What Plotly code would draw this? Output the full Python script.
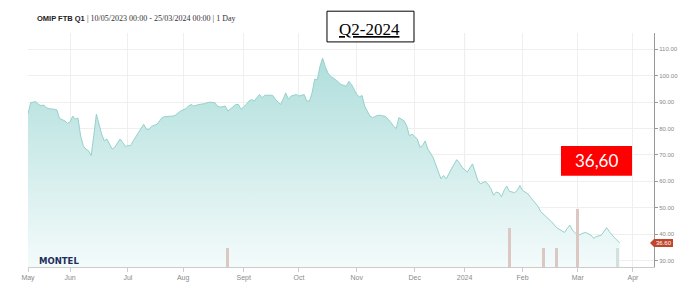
import plotly.graph_objects as go

# ---------------- data ----------------
price_dates = [
    "2023-05-10","2023-05-11","2023-05-15","2023-05-16","2023-05-17","2023-05-18","2023-05-19","2023-05-22","2023-05-24","2023-05-25","2023-05-26","2023-05-30","2023-05-31",
    "2023-06-01","2023-06-02","2023-06-05","2023-06-06","2023-06-07","2023-06-08","2023-06-09","2023-06-12","2023-06-13","2023-06-14","2023-06-15","2023-06-19","2023-06-20","2023-06-21","2023-06-22","2023-06-23","2023-06-26","2023-06-28","2023-06-29","2023-06-30",
    "2023-07-03","2023-07-04","2023-07-05","2023-07-07","2023-07-11","2023-07-12","2023-07-13","2023-07-14","2023-07-18","2023-07-20","2023-07-21","2023-07-26","2023-07-27","2023-07-31",
    "2023-08-02","2023-08-03","2023-08-04","2023-08-07","2023-08-09","2023-08-11","2023-08-15","2023-08-17","2023-08-18","2023-08-21","2023-08-23","2023-08-24","2023-08-28","2023-08-29","2023-08-30","2023-08-31",
    "2023-09-04","2023-09-05","2023-09-06","2023-09-07","2023-09-11","2023-09-12","2023-09-13","2023-09-15","2023-09-18","2023-09-19","2023-09-21","2023-09-22","2023-09-25","2023-09-26","2023-09-27","2023-09-29",
    "2023-10-02","2023-10-04","2023-10-05","2023-10-06","2023-10-09","2023-10-10","2023-10-11","2023-10-12","2023-10-13","2023-10-16","2023-10-17","2023-10-18","2023-10-20","2023-10-24","2023-10-26","2023-10-27","2023-10-30",
    "2023-11-01","2023-11-02","2023-11-03","2023-11-06","2023-11-08","2023-11-09","2023-11-13","2023-11-14","2023-11-16","2023-11-17","2023-11-20","2023-11-21","2023-11-22","2023-11-23","2023-11-27","2023-11-28","2023-11-29","2023-11-30",
    "2023-12-04","2023-12-05","2023-12-06","2023-12-07","2023-12-08","2023-12-12","2023-12-13","2023-12-14","2023-12-15","2023-12-18","2023-12-19","2023-12-21","2023-12-27","2023-12-28","2023-12-29",
    "2024-01-03","2024-01-04","2024-01-05","2024-01-08","2024-01-09","2024-01-10","2024-01-11","2024-01-12","2024-01-15","2024-01-16","2024-01-17","2024-01-18","2024-01-19","2024-01-22","2024-01-23","2024-01-24","2024-01-25","2024-01-29","2024-01-30","2024-01-31",
    "2024-02-01","2024-02-05","2024-02-07","2024-02-09","2024-02-12","2024-02-14","2024-02-16","2024-02-20","2024-02-22","2024-02-23","2024-02-26","2024-02-27","2024-02-28",
    "2024-03-01","2024-03-05","2024-03-06","2024-03-08","2024-03-11","2024-03-12","2024-03-14","2024-03-18","2024-03-19","2024-03-21","2024-03-22","2024-03-25",
]
price_values = [
    85.5, 89.8, 90.2, 89.1, 88.7, 88.9, 87.9, 87.5, 87.3, 87.0, 83.8, 82.9, 82.0,
    82.5, 84.7, 83.5, 84.0, 77.2, 73.5, 72.2, 71.6, 69.7, 77.2, 85.4, 77.9, 75.3, 76.0, 74.1, 72.2, 72.9, 76.0, 74.7, 73.2,
    73.5, 73.5, 75.3, 78.5, 81.6, 79.7, 79.7, 80.8, 81.6, 84.1, 84.5, 84.7, 85.0, 86.6,
    87.5, 88.5, 89.1, 88.5, 89.1, 89.4, 90.0, 89.8, 88.5, 88.1, 88.5, 86.6, 88.5, 89.1, 89.1, 87.3,
    89.1, 90.4, 91.0, 90.4, 92.9, 91.7, 92.6, 92.6, 92.6, 91.1, 89.1, 91.1, 93.5, 91.1, 92.3, 92.9,
    92.3, 92.9, 90.4, 90.4, 93.5, 98.7, 98.5, 103.5, 106.7, 103.5, 101.1, 99.8, 98.5, 96.7, 96.0, 97.9, 96.7,
    92.9, 92.0, 92.5, 88.5, 84.7, 84.1, 85.0, 85.0, 84.5, 83.5, 82.3, 80.8, 80.0, 84.1, 82.9, 81.0, 77.2, 77.9,
    76.0, 72.9, 73.5, 75.3, 72.2, 69.1, 66.6, 64.1, 60.9, 62.2, 60.9, 64.7, 68.2, 67.0, 65.3,
    63.5, 65.3, 66.6, 63.5, 60.3, 59.1, 59.4, 59.9, 58.7, 57.2, 54.7, 55.9, 55.6, 54.1, 56.5, 58.2, 56.2, 55.7, 56.5, 58.4,
    56.5, 55.3, 52.8, 50.3, 48.4, 46.5, 44.7, 42.4, 41.1, 40.6, 42.1, 43.4, 41.5,
    39.4, 40.3, 40.6, 39.6, 38.4, 39.0, 39.6, 42.4, 40.9, 38.6, 37.7, 36.6,
]

volume_dates = ["2023-08-24", "2024-01-25", "2024-02-13", "2024-02-20", "2024-03-01", "2024-03-22"]
volume_values = [1, 2, 1, 1, 3, 1]
volume_colors = ["#dcc8c3", "#dcc8c3", "#dcc8c3", "#dcc8c3", "#dcc8c3", "#d3e0dd"]

tick_dates = ["2023-05-10", "2023-06-01", "2023-07-03", "2023-08-01", "2023-09-01", "2023-10-02",
              "2023-11-01", "2023-12-01", "2024-01-02", "2024-02-01", "2024-03-01", "2024-04-01"]
tick_labels = ["May", "Jun", "Jul", "Aug", "Sept", "Oct", "Nov", "Dec", "2024", "Feb", "Mar", "Apr"]
y_ticks = [30, 40, 50, 60, 70, 80, 90, 100, 110]

last_price = 36.60
title_bold = "OMIP FTB Q1"
title_rest = "| 10/05/2023 00:00 - 25/03/2024 00:00 | 1 Day"
badge_text = "36,60"
period_text = "Q2-2024"

# ---------------- figure ----------------
fig = go.Figure()

fig.add_trace(go.Scatter(
    x=price_dates, y=price_values, mode="lines",
    line=dict(color="#96d1cc", width=1),
    fill="tozeroy",
    fillgradient=dict(type="vertical", start=27.5, stop=108,
                      colorscale=[[0, "rgb(244,251,251)"], [1, "rgb(174,222,219)"]]),
    hoverinfo="skip", showlegend=False,
))

fig.add_trace(go.Bar(
    x=volume_dates, y=volume_values, yaxis="y2",
    marker=dict(color=volume_colors, line=dict(width=0)),
    width=86400000 * 1.1, showlegend=False, hoverinfo="skip",
))

grid_c = "#efefef"
fig.update_layout(
    width=695, height=294,
    margin=dict(l=28, r=41, t=33, b=25),
    paper_bgcolor="white", plot_bgcolor="white",
    font=dict(family="Liberation Sans", color="#888888", size=7),
    xaxis=dict(
        type="date",
        range=["2023-05-10", "2024-04-11"],
        rangebreaks=[dict(bounds=["sat", "mon"]),
                     dict(values=["2023-12-25", "2023-12-26", "2024-01-01"])],
        tickvals=tick_dates, ticktext=tick_labels,
        showgrid=True, gridcolor=grid_c, gridwidth=1,
        showline=True, linecolor="#cccccc", linewidth=1,
        ticks="outside", ticklen=4, tickcolor="#cccccc",
        tickfont=dict(size=7, color="#8a8a8a"),
        zeroline=False,
    ),
    yaxis=dict(
        side="right", range=[27.5, 116.2],
        tickvals=y_ticks, tickformat=".2f",
        showgrid=True, gridcolor=grid_c, gridwidth=1,
        showline=True, linecolor="#999999", linewidth=1,
        ticks="outside", ticklen=3, tickcolor="#999999",
        tickfont=dict(size=6, color="#8a8a8a"),
        zeroline=False,
    ),
    yaxis2=dict(overlaying="y", range=[0, 12], visible=False, fixedrange=True),
    bargap=0,
)

# darker year separator line
fig.add_shape(type="line", xref="x", yref="paper", x0="2024-01-02", x1="2024-01-02",
              y0=0, y1=1, line=dict(color="#d9d9d9", width=1), layer="below")

# Q2-2024 box
fig.add_shape(type="rect", xref="paper", yref="paper",
              x0=0.4776, x1=0.6166, y0=0.9619, y1=1.0932,
              line=dict(color="black", width=1), fillcolor="white", layer="above")
fig.add_annotation(xref="paper", yref="paper", x=0.5463, y=1.0169,
                   text="<u>" + period_text + "</u>", showarrow=False,
                   font=dict(family="Liberation Serif", size=17, color="black"),
                   xanchor="center", yanchor="middle")

# title
fig.add_annotation(xref="paper", yref="paper", x=0.0112, y=1.0636,
                   text="<b>" + title_bold + "</b>", showarrow=False,
                   font=dict(family="Liberation Sans", size=7.5, color="#222222"),
                   xanchor="left", yanchor="middle")
fig.add_annotation(xref="paper", yref="paper", x=0.0905, y=1.0636,
                   text=title_rest, showarrow=False,
                   font=dict(family="Liberation Serif", size=8, color="#333333"),
                   xanchor="left", yanchor="middle")

# red value badge
fig.add_shape(type="rect", xref="paper", yref="paper",
              x0=0.8514, x1=0.9649, y0=0.3898, y1=0.5169,
              line=dict(width=0), fillcolor="#ff0000", layer="above")
fig.add_annotation(xref="paper", yref="paper", x=0.9082, y=0.4534,
                   text=badge_text, showarrow=False,
                   font=dict(family="Lato", size=17, color="white"),
                   xanchor="center", yanchor="middle")

# last price tag on the axis
fig.add_shape(type="path", xref="paper", yref="y",
              path="M 0.9936,36.6 L 1.0,38.1 L 1.0304,38.1 L 1.0304,35.1 L 1.0,35.1 Z",
              fillcolor="#c0452b", line=dict(width=0), layer="above")
fig.add_annotation(xref="paper", yref="y", x=1.0152, y=last_price,
                   text=f"{last_price:.2f}", showarrow=False,
                   font=dict(family="Liberation Sans", size=6, color="white"),
                   xanchor="center", yanchor="middle")

# MONTEL logo text
fig.add_annotation(xref="paper", yref="paper", x=0.0139, y=0.024,
                   text="<b>MONTEL</b>", showarrow=False,
                   font=dict(family="DejaVu Sans", size=8.5, color="#1d2f5c"),
                   xanchor="left", yanchor="middle")

fig.write_html("out.html")
